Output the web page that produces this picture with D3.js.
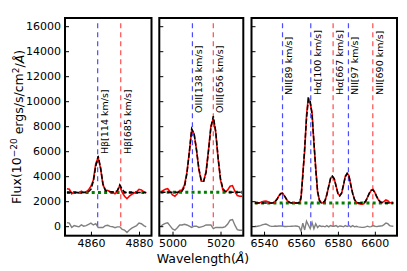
<!DOCTYPE html>
<meta charset="utf-8">

<head>
    <style>
        body {
            margin: 0;
            background: #fff;
        }

        .axis text {
            font-family: 'DejaVu Sans', sans-serif;
            font-size: 11px;
            fill: #000;
        }

        .axis line {
            stroke: #000;
            stroke-width: 1;
        }

        .line-label {
            font-family: 'DejaVu Sans', sans-serif;
            font-size: 9.5px;
        }

        .axis-title {
            font-family: 'DejaVu Sans', sans-serif;
            font-size: 12.5px;
            text-anchor: middle;
        }
    </style>
</head>

<script src="https://d3js.org/d3.v7.min.js"></script>

<div id="spectrum"></div>

<script>

    // ---- panel 1 : Hbeta ----
    const wave1 = [4850, 4851, 4852, 4853, 4854, 4855, 4856, 4857, 4858, 4859, 4860, 4861, 4862, 4863, 4864, 4865, 4866,
        4867, 4868, 4869, 4870, 4871, 4872, 4873, 4874, 4875, 4876, 4877, 4878, 4879, 4880, 4881, 4882, 4883];
    const obs1 = [2990, 2950, 2600, 2750, 2700, 2650, 2800, 2700, 2750, 2900, 3200, 3700, 5000, 5500, 4600, 3300, 2900,
        2850, 2750, 2700, 2600, 2800, 3250, 2700, 2400, 2200, 2400, 2550, 2650, 2750, 2950, 2900, 2750, 2650];
    const fit1 = [2700, 2700, 2700, 2700, 2700, 2700, 2700, 2700, 2705, 2760, 2950, 3600, 4800, 5600, 4700, 3400, 2850,
        2780, 2760, 2740, 2720, 2850, 3300, 2950, 2720, 2700, 2700, 2700, 2700, 2700, 2700, 2700, 2700, 2700];
    const res1 = [290, 250, -100, 50, 0, -50, 100, 0, 45, 140, 250, 100, 200, -100, -100, -100, 50,
        70, -10, -40, -120, -50, -50, -250, -320, -500, -300, -150, -50, 50, 250, 200, 50, -50];
    const cont1 = 2700;
    const lines1 = [4862.8, 4872.4];
    const kinds1 = ["narrow", "broad"];
    const labels1 = ["Hβ[114 km/s]", "Hβ[685 km/s]"];

    // ---- panel 2 : [OIII] ----
    const wave2 = [4995, 4996, 4997, 4998, 4999, 5000, 5001, 5002, 5003, 5004, 5005, 5006, 5007, 5008, 5009, 5010, 5011,
        5012, 5013, 5014, 5015, 5016, 5017, 5018, 5019, 5020, 5021, 5022, 5023, 5024, 5025, 5026, 5027, 5028, 5029];
    const obs2 = [2700, 2850, 2950, 3000, 2750, 2500, 2400, 2600, 2850, 2900, 3300, 4300, 5900, 7700, 7400, 6100, 4500,
        3600, 3600, 4400, 6100, 8000, 8600, 7500, 5400, 3700, 2900, 2750, 2900, 3200, 3250, 2800, 2450, 2400, 2400];
    const fit2 = [2720, 2720, 2720, 2720, 2720, 2720, 2720, 2725, 2750, 2800, 3150, 4200, 5900, 7800, 7400, 6100, 4600,
        3650, 3600, 4300, 6000, 7900, 8800, 7600, 5500, 3800, 3000, 2780, 2730, 2720, 2720, 2720, 2720, 2720, 2720];
    const res2 = [-20, 130, 230, 280, 30, -220, -320, -125, 100, 100, 150, 100, 0, -100, 0, 0, -100,
        -50, 0, 100, 100, 100, -200, -100, -100, -100, -100, -30, 170, 480, 530, 80, -270, -320, -320];
    const cont2 = 2720;
    const lines2 = [5008.3, 5017.0];
    const kinds2 = ["narrow", "broad"];
    const labels2 = ["OIII[138 km/s]", "OIII[656 km/s]"];

    // ---- panel 3 : Halpha + [NII] ----
    const wave3 = [6535, 6536, 6537, 6538, 6539, 6540, 6541, 6542, 6543, 6544, 6545, 6546, 6547, 6548, 6549, 6550,
        6551, 6552, 6553, 6554, 6555, 6556, 6557, 6558, 6559, 6560, 6561, 6562, 6563, 6564, 6565, 6566,
        6567, 6568, 6569, 6570, 6571, 6572, 6573, 6574, 6575, 6576, 6577, 6578, 6579, 6580, 6581, 6582,
        6583, 6584, 6585, 6586, 6587, 6588, 6589, 6590, 6591, 6592, 6593, 6594, 6595, 6596, 6597, 6598,
        6599, 6600, 6601, 6602, 6603, 6604, 6605, 6606, 6607, 6608, 6609, 6610];
    const obs3 = [1850, 1830, 1870, 1900, 1950, 2000, 2020, 1950, 1870, 1850, 1870, 1980, 2150, 2420, 2620, 2650,
        2430, 2180, 1980, 1880, 1860, 1860, 1870, 1850, 1820, 2150, 4250, 6000, 8900, 10300, 9800, 9100,
        6600, 4700, 2700, 2100, 1850, 1880, 2000, 2550, 3150, 3850, 4000, 3800, 3250, 2600, 2450, 2650,
        3250, 4000, 4200, 4050, 3250, 2650, 2100, 1920, 1820, 1780, 1760, 1800, 1950, 2300, 2600, 2850,
        2950, 2700, 2350, 2100, 1950, 1900, 1980, 2100, 2050, 1900, 1860, 1850];
    const fit3 = [1850, 1850, 1850, 1850, 1850, 1850, 1850, 1850, 1850, 1860, 1880, 1970, 2150, 2400, 2600, 2630,
        2450, 2200, 1990, 1890, 1860, 1850, 1850, 1850, 1870, 2300, 4000, 6300, 8600, 10200, 10000, 8900,
        6800, 4500, 2800, 2050, 1870, 1880, 2050, 2500, 3200, 3800, 4000, 3800, 3200, 2650, 2430, 2650,
        3300, 3950, 4230, 4000, 3300, 2600, 2150, 1930, 1870, 1850, 1850, 1880, 2000, 2300, 2650, 2880,
        2900, 2700, 2380, 2100, 1930, 1870, 1850, 1850, 1850, 1850, 1850, 1850];
    const res3 = [0, -20, 20, 50, 100, 150, 170, 100, 20, -10, -10, 10, 0, 20, 20, 20,
        -20, -20, -10, -10, 0, 10, 20, 0, -50, -400, 250, -300, 400, 100, -200, 300,
        -200, 200, -100, 50, -20, 0, -50, 50, -50, 50, 0, 0, 50, -50, 20, 0,
        -50, 50, -30, 50, -50, 50, -50, -10, -50, -70, -90, -80, -50, 0, -50, -30,
        50, 0, -30, 0, 20, 30, 130, 250, 200, 50, 10, 0];
    const cont3 = 1850;
    const lines3 = [6550.0, 6565.3, 6577.4, 6585.7, 6598.9];
    const kinds3 = ["narrow", "narrow", "broad", "narrow", "broad"];
    const labels3 = ["NII[89 km/s]", "Hα[100 km/s]", "Hα[667 km/s]", "NII[97 km/s]", "NII[690 km/s]"];

    const xTicks1 = [4860, 4880];
    const xTicks2 = [5000, 5020];
    const xTicks3 = [6540, 6560, 6580, 6600];
    const yTicks = [0, 2000, 4000, 6000, 8000, 10000, 12000, 14000, 16000];

    // layout
    const width = 407, height = 271;
    const plotTop = 18, plotBottom = 235.7;
    const vlineTop = 16300;

    const panels = [
        { wave: wave1, obs: obs1, fit: fit1, res: res1, cont: cont1, lines: lines1, kinds: kinds1, labels: labels1,
          ticks: xTicks1, left: 65, right: 151.5, domain: [4849.2, 4885.2] },
        { wave: wave2, obs: obs2, fit: fit2, res: res2, cont: cont2, lines: lines2, kinds: kinds2, labels: labels2,
          ticks: xTicks2, left: 159.3, right: 243.3, domain: [4994.5, 5029.5] },
        { wave: wave3, obs: obs3, fit: fit3, res: res3, cont: cont3, lines: lines3, kinds: kinds3, labels: labels3,
          ticks: xTicks3, left: 251.5, right: 397, domain: [6533.2, 6612] }
    ];

    const kindColor = { narrow: "#0000ff", broad: "#ff0000" };

    const svg = d3.select("#spectrum")
        .append("svg")
        .attr("width", width)
        .attr("height", height);

    const y = d3.scaleLinear()
        .domain([-760, 16656])
        .range([plotBottom, plotTop]);

    panels.forEach(function (p, i) {
        const x = d3.scaleLinear()
            .domain(p.domain)
            .range([p.left, p.right]);

        const g = svg.append("g");

        // vertical marker lines
        g.selectAll(".vline")
            .data(p.lines)
            .enter()
            .append("line")
            .attr("x1", d => x(d))
            .attr("x2", d => x(d))
            .attr("y1", y(0))
            .attr("y2", y(vlineTop))
            .attr("stroke", (d, j) => kindColor[p.kinds[j]])
            .attr("stroke-width", 1.2)
            .attr("stroke-dasharray", "5,4")
            .attr("opacity", 0.7);

        const idx = d3.range(p.wave.length);

        const line = arr => d3.line()
            .x(j => x(p.wave[j]))
            .y(j => y(arr[j]))(idx);

        // residual
        g.append("path")
            .attr("d", line(p.res))
            .attr("fill", "none")
            .attr("stroke", "#808080")
            .attr("stroke-width", 1.4);

        // continuum
        g.append("line")
            .attr("x1", x(p.wave[0]))
            .attr("x2", x(p.wave[p.wave.length - 1]))
            .attr("y1", y(p.cont))
            .attr("y2", y(p.cont))
            .attr("stroke", "#008000")
            .attr("stroke-width", 3)
            .attr("stroke-dasharray", "3,3.2");

        // observed
        g.append("path")
            .attr("d", line(p.obs))
            .attr("fill", "none")
            .attr("stroke", "#ff0000")
            .attr("stroke-width", 1.6);

        // fit
        g.append("path")
            .attr("d", line(p.fit))
            .attr("fill", "none")
            .attr("stroke", "#000")
            .attr("stroke-width", 1.5)
            .attr("stroke-dasharray", "5,2");

        // line labels
        const labelY = y(d3.max(p.fit) * 1.03);
        g.selectAll(".line-label")
            .data(p.lines)
            .enter()
            .append("text")
            .attr("class", "line-label")
            .attr("transform", d => "translate(" + (x(d) + 6.5) + "," + labelY + ") rotate(-90)")
            .attr("dy", "0.35em")
            .text((d, j) => p.labels[j]);

        // axes
        svg.append("g")
            .attr("class", "axis")
            .attr("transform", "translate(0," + plotBottom + ")")
            .call(d3.axisBottom(x).tickValues(p.ticks).tickSize(-4).tickPadding(4).tickFormat(d3.format("d")))
            .call(a => a.select(".domain").remove());

        svg.append("g")
            .attr("class", "axis")
            .attr("transform", "translate(" + p.left + ",0)")
            .call(d3.axisLeft(y).tickValues(yTicks).tickSize(-4).tickPadding(4)
                .tickFormat(i === 0 ? d3.format("d") : ""))
            .call(a => a.select(".domain").remove());

        // frame
        svg.append("rect")
            .attr("x", p.left)
            .attr("y", plotTop)
            .attr("width", p.right - p.left)
            .attr("height", plotBottom - plotTop)
            .attr("fill", "none")
            .attr("stroke", "#000")
            .attr("stroke-width", 2);
    });

    // axis titles
    svg.append("text")
        .attr("class", "axis-title")
        .attr("x", 203)
        .attr("y", 263)
        .html("Wavelength(<tspan font-style='italic'>Å</tspan>)");

    const yt = svg.append("text")
        .attr("class", "axis-title")
        .attr("transform", "translate(21,127) rotate(-90)");
    yt.append("tspan").text("Flux(10");
    yt.append("tspan").attr("dy", "-0.45em").attr("font-size", "9px").text("−20");
    yt.append("tspan").attr("dy", "0.45em").text(" ergs/s/cm");
    yt.append("tspan").attr("dy", "-0.45em").attr("font-size", "9px").text("2");
    yt.append("tspan").attr("dy", "0.45em").text("/");
    yt.append("tspan").attr("font-style", "italic").text("Å");
    yt.append("tspan").text(")");
</script>
